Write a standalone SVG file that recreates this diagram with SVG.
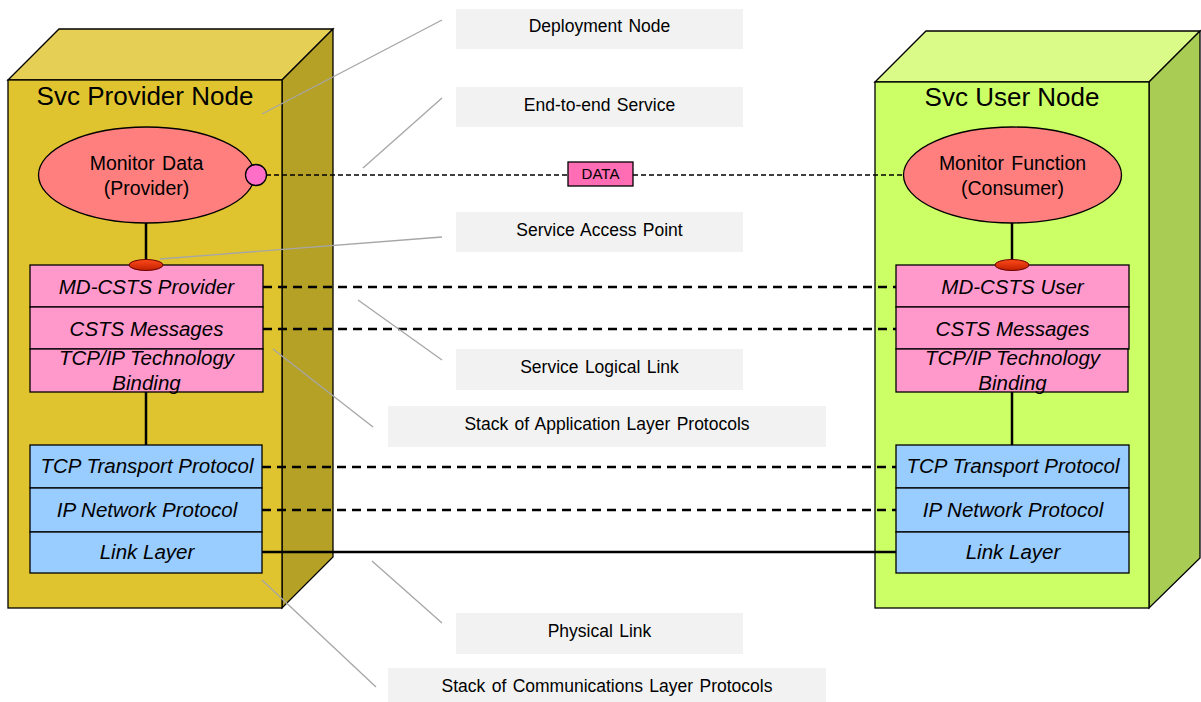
<svg xmlns="http://www.w3.org/2000/svg" width="1201" height="702" viewBox="0 0 1201 702">
<style>
.edge{stroke:#000;stroke-width:1.3;stroke-linejoin:miter}
.title{font-family:"Liberation Sans",Arial,sans-serif;font-size:26px;fill:#000;text-anchor:middle}
.el{font-family:"Liberation Sans",Arial,sans-serif;font-size:19.5px;word-spacing:2px;fill:#000;text-anchor:middle}
.layer{font-family:"Liberation Sans",Arial,sans-serif;font-size:20.5px;font-style:italic;fill:#000;text-anchor:middle}
.pink{fill:#FF99CC;stroke:#000;stroke-width:1.3}
.blue{fill:#99CCFF;stroke:#000;stroke-width:1.3}
.callbox{fill:#F2F2F2}
.call{font-family:"Liberation Sans",Arial,sans-serif;font-size:17.5px;word-spacing:1.5px;fill:#000;text-anchor:middle}
.leader{stroke:#A6A6A6;stroke-width:1.3;fill:none}
.thick{stroke:#000;stroke-width:2.5;fill:none}
.dash{stroke:#000;stroke-width:2.5;fill:none;stroke-dasharray:9 6}
.thin{stroke:#000;stroke-width:1.3;fill:none;stroke-dasharray:5 3}
.sap{fill:url(#sapg);stroke:#600;stroke-width:1}
</style>
<defs>
<linearGradient id="sapg" x1="0" y1="0" x2="0" y2="1">
<stop offset="0" stop-color="#ff4a1a"/>
<stop offset="1" stop-color="#c02000"/>
</linearGradient>
</defs>
<rect width="1201" height="702" fill="#fff"/>

<g id="provider-node">
<polygon class="edge" points="8,80 59,29 333,29 282,80" fill="#E5CF55"/>
<polygon class="edge" points="282,80 333,29 333,557 282,608" fill="#B5A126"/>
<rect class="edge" x="8" y="80" width="274" height="528" fill="#DFC42F"/>
<text class="title" x="145" y="105">Svc Provider Node</text>
</g>

<g id="user-node">
<polygon class="edge" points="875,82 926,31 1200,31 1149,82" fill="#DBFB88"/>
<polygon class="edge" points="1149,82 1200,31 1200,558 1149,608" fill="#A9CC55"/>
<rect class="edge" x="875" y="82" width="274" height="526" fill="#CCFF66"/>
<text class="title" x="1012" y="106">Svc User Node</text>
</g>

<g id="connectors">
<line class="thick" x1="146" y1="223" x2="146" y2="262"/>
<line class="thick" x1="146" y1="392" x2="146" y2="445"/>
<line class="thick" x1="1012" y1="222" x2="1012" y2="262"/>
<line class="thick" x1="1012" y1="392" x2="1012" y2="445"/>
<line class="thin" x1="266" y1="175" x2="568" y2="175"/>
<line class="thin" x1="633" y1="175" x2="903" y2="175"/>
<line class="dash" x1="263" y1="287" x2="896" y2="287"/>
<line class="dash" x1="263" y1="329" x2="896" y2="329"/>
<line class="dash" x1="262" y1="467" x2="896" y2="467"/>
<line class="dash" x1="262" y1="510" x2="896" y2="510"/>
<line class="thick" x1="262" y1="552" x2="896" y2="552"/>
</g>

<g id="monitor-data">
<ellipse class="edge" cx="146.5" cy="175" rx="108" ry="48" fill="#FF7F7F"/>
<text class="el" x="146.5" y="170">Monitor Data</text>
<text class="el" x="146.5" y="195">(Provider)</text>
</g>
<g id="data-port">
<circle class="edge" cx="256" cy="175" r="10.5" fill="#FF6EC7"/>
</g>

<g id="monitor-function">
<ellipse class="edge" cx="1012.5" cy="175" rx="109" ry="48" fill="#FF7F7F"/>
<text class="el" x="1012.5" y="170">Monitor Function</text>
<text class="el" x="1012.5" y="195">(Consumer)</text>
</g>

<g id="data-label">
<rect x="568" y="162" width="65" height="24" fill="#FF6EB4" stroke="#000" stroke-width="1.3"/>
<text x="600.5" y="179" font-family="Liberation Sans, Arial, sans-serif" font-size="15" text-anchor="middle">DATA</text>
</g>

<g id="provider-app-stack">
<rect class="pink" x="30" y="265" width="233" height="42"/>
<rect class="pink" x="30" y="307" width="233" height="42"/>
<rect class="pink" x="30" y="349" width="233" height="43"/>
<text class="layer" x="146.5" y="294">MD-CSTS Provider</text>
<text class="layer" x="146.5" y="336">CSTS Messages</text>
<text class="layer" x="146.5" y="365">TCP/IP Technology</text>
<text class="layer" x="146.5" y="390">Binding</text>
</g>
<g id="provider-sap">
<ellipse class="sap" cx="146" cy="265" rx="17" ry="5.5"/>
</g>

<g id="provider-comm-stack">
<rect class="blue" x="30" y="445" width="232" height="43"/>
<rect class="blue" x="30" y="488" width="232" height="44"/>
<rect class="blue" x="30" y="532" width="232" height="41"/>
<text class="layer" x="147" y="473">TCP Transport Protocol</text>
<text class="layer" x="147" y="517">IP Network Protocol</text>
<text class="layer" x="147" y="559">Link Layer</text>
</g>

<g id="user-app-stack">
<rect class="pink" x="896" y="265" width="233" height="42"/>
<rect class="pink" x="896" y="307" width="233" height="42"/>
<rect class="pink" x="896" y="349" width="232" height="43"/>
<text class="layer" x="1012.5" y="294">MD-CSTS User</text>
<text class="layer" x="1012.5" y="336">CSTS Messages</text>
<text class="layer" x="1012.5" y="365">TCP/IP Technology</text>
<text class="layer" x="1012.5" y="390">Binding</text>
</g>
<g id="user-sap">
<ellipse class="sap" cx="1012" cy="265" rx="17" ry="5.5"/>
</g>

<g id="user-comm-stack">
<rect class="blue" x="896" y="445" width="233" height="43"/>
<rect class="blue" x="896" y="488" width="233" height="44"/>
<rect class="blue" x="896" y="532" width="233" height="41"/>
<text class="layer" x="1013" y="473">TCP Transport Protocol</text>
<text class="layer" x="1013" y="517">IP Network Protocol</text>
<text class="layer" x="1013" y="559">Link Layer</text>
</g>

<g id="callout-leaders">
<line class="leader" x1="262" y1="114" x2="442" y2="20"/>
<line class="leader" x1="363" y1="168" x2="442" y2="98"/>
<line class="leader" x1="160" y1="259" x2="442" y2="237"/>
<line class="leader" x1="358" y1="300" x2="442" y2="360"/>
<line class="leader" x1="273" y1="349" x2="373" y2="427"/>
<line class="leader" x1="372" y1="561" x2="442" y2="623"/>
<line class="leader" x1="262" y1="580" x2="376" y2="687"/>
</g>

<g id="callout-deployment-node">
<rect class="callbox" x="456" y="9" width="287" height="40"/>
<text class="call" x="599.5" y="32">Deployment Node</text>
</g>
<g id="callout-end-to-end">
<rect class="callbox" x="456" y="87" width="287" height="40"/>
<text class="call" x="599.5" y="111">End-to-end Service</text>
</g>
<g id="callout-sap">
<rect class="callbox" x="456" y="212" width="287" height="40"/>
<text class="call" x="599.5" y="236">Service Access Point</text>
</g>
<g id="callout-logical-link">
<rect class="callbox" x="456" y="349" width="287" height="41"/>
<text class="call" x="599.5" y="373">Service Logical Link</text>
</g>
<g id="callout-app-stack">
<rect class="callbox" x="388" y="406" width="438" height="41"/>
<text class="call" x="607" y="430">Stack of Application Layer Protocols</text>
</g>
<g id="callout-physical-link">
<rect class="callbox" x="456" y="613" width="287" height="41"/>
<text class="call" x="599.5" y="637">Physical Link</text>
</g>
<g id="callout-comm-stack">
<rect class="callbox" x="388" y="668" width="438" height="34"/>
<text class="call" x="607" y="692">Stack of Communications Layer Protocols</text>
</g>
</svg>
